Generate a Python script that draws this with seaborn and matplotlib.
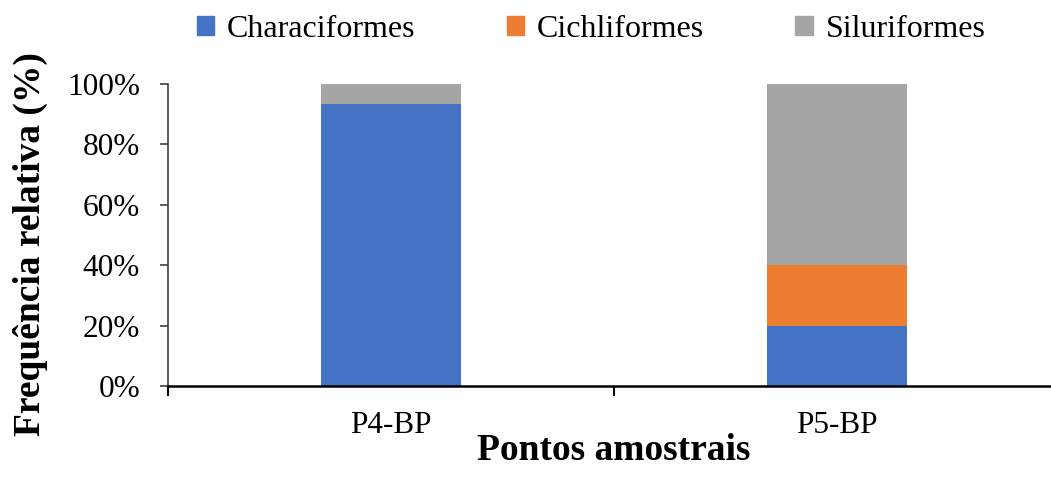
import matplotlib
matplotlib.use("Agg")
import matplotlib.pyplot as plt
import matplotlib.patches as mpatches
import seaborn as sns
import numpy as np
import pandas as pd

categories = ["P4-BP", "P5-BP"]
characiformes = [93.3, 20.0]
cichliformes = [0.0, 20.0]
siluriformes = [6.7, 60.0]
series_names = ["Characiformes", "Cichliformes", "Siluriformes"]
colors = ["#4472C4", "#ED7D31", "#A5A5A5"]
yticks = [0, 20, 40, 60, 80, 100]

sns.set_style("white")
plt.rcParams["font.family"] = ["Liberation Serif", "DejaVu Serif"]
plt.rcParams["text.color"] = "black"
plt.rcParams["axes.labelcolor"] = "black"
plt.rcParams["xtick.color"] = "black"
plt.rcParams["ytick.color"] = "black"

fig = plt.figure(figsize=(10.51, 4.86), dpi=100)
ax = fig.add_axes([168 / 1051, 100 / 486, 892 / 1051, 302 / 486])

c1 = np.array(characiformes)
c2 = c1 + np.array(cichliformes)
c3 = c2 + np.array(siluriformes)

for vals, col in [(c3, colors[2]), (c2, colors[1]), (c1, colors[0])]:
    df = pd.DataFrame({"cat": categories, "val": vals})
    sns.barplot(data=df, x="cat", y="val", color=col, saturation=1,
                width=0.314, ax=ax, errorbar=None, linewidth=0)

ax.set_xlim(-0.5, 1.5)
ax.set_ylim(0, 100)

# y axis
ax.set_yticks(yticks)
ax.set_yticklabels([f"{v}%" for v in yticks], fontsize=22.5)
ax.tick_params(axis="y", direction="out", length=6, width=1.2, color="#404040",
               labelcolor="black", pad=14, left=True)

# x axis: tick marks at boundaries, labels at centers
ax.set_xticks([-0.5, 0.5, 1.5])
ax.set_xticklabels(["", "", ""])
ax.set_xticks([0, 1], minor=True)
ax.set_xticklabels(categories, minor=True, fontsize=22.5)
ax.tick_params(axis="x", which="major", direction="out", length=7, width=1.5,
               color="black", bottom=True)
ax.tick_params(axis="x", which="minor", length=0, pad=18, labelcolor="black")

for s in ["top", "right"]:
    ax.spines[s].set_visible(False)
ax.spines["left"].set_color("#404040")
ax.spines["left"].set_linewidth(1.2)
ax.spines["bottom"].set_color("black")
ax.spines["bottom"].set_linewidth(1.8)

ax.set_xlabel("Pontos amostrais", fontsize=27, fontweight="bold", color="black")
ax.set_ylabel("Frequência relativa (%)", fontsize=27, fontweight="bold", color="black")
ax.xaxis.set_label_coords(0.5, -0.155)
ax.yaxis.set_label_coords(-0.135, 0.47)

handles = [mpatches.Patch(color=c, label=n) for c, n in zip(colors, series_names)]
fig.legend(handles=handles, loc="center", bbox_to_anchor=(0.5625, 0.940),
           ncol=3, frameon=False, fontsize=23, handlelength=0.55,
           handleheight=0.55, handletextpad=0.4, columnspacing=2.85,
           labelcolor="black")

fig.savefig("out.png", dpi=100)
